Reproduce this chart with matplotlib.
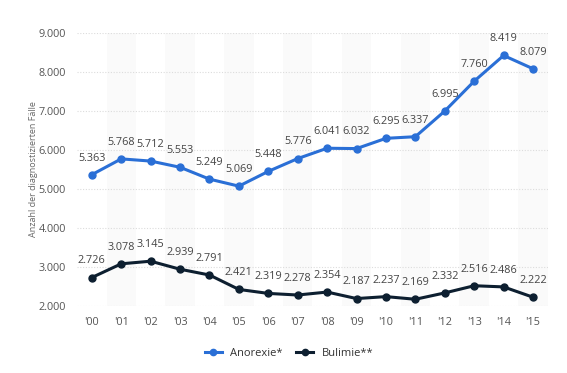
import matplotlib.pyplot as plt

plt.rcParams['font.family'] = ['Open Sans', 'DejaVu Sans']

years = ["'00", "'01", "'02", "'03", "'04", "'05", "'06", "'07",
         "'08", "'09", "'10", "'11", "'12", "'13", "'14", "'15"]
anorexie = [5363, 5768, 5712, 5553, 5249, 5069, 5448, 5776,
            6041, 6032, 6295, 6337, 6995, 7760, 8419, 8079]
bulimie = [2726, 3078, 3145, 2939, 2791, 2421, 2319, 2278,
           2354, 2187, 2237, 2169, 2332, 2516, 2486, 2222]
yticks = [2000, 3000, 4000, 5000, 6000, 7000, 8000, 9000]

blue = '#2a6fd6'
navy = '#0d1f30'

def fmt(v):
    return f"{v:,}".replace(",", ".")

fig = plt.figure(figsize=(5.67, 3.73), dpi=100)
ax = fig.add_axes([0.136, 0.18, 0.83, 0.732])

x = list(range(len(years)))

# alternating background bands
for i in x:
    if i % 2 == 1:
        ax.axvspan(i - 0.5, i + 0.5, color='#fafafa', zorder=0, lw=0)

for yv in yticks:
    ax.axhline(yv, color='#dcdcdc', lw=0.8, ls=(0, (1, 1.5)), zorder=1)

ax.plot(x, anorexie, color=blue, lw=2.2, marker='o', ms=5,
        label='Anorexie*', zorder=3, clip_on=False)
ax.plot(x, bulimie, color=navy, lw=2.2, marker='o', ms=5,
        label='Bulimie**', zorder=3, clip_on=False)

for xi, v in zip(x, anorexie):
    ax.annotate(fmt(v), (xi, v), xytext=(0, 8), textcoords='offset points',
                ha='center', va='bottom', fontsize=7.8, color='#444444', zorder=4)
for xi, v in zip(x, bulimie):
    ax.annotate(fmt(v), (xi, v), xytext=(0, 8), textcoords='offset points',
                ha='center', va='bottom', fontsize=7.8, color='#444444', zorder=4)

ax.set_xlim(-0.5, 15.5)
ax.set_ylim(2000, 9000)
ax.set_xticks(x)
ax.set_xticklabels(years)
ax.set_yticks(yticks)
ax.set_yticklabels([fmt(v) for v in yticks])
ax.tick_params(length=0, labelsize=7.8, colors='#555555', pad=8)
for s in ax.spines.values():
    s.set_visible(False)

ax.set_ylabel('Anzahl der diagnostizierten Fälle', fontsize=6.5, color='#666666')
ax.yaxis.set_label_coords(-0.083, 0.5)

fig.legend(loc='lower center', bbox_to_anchor=(0.51, 0.01), ncol=2, frameon=False,
           fontsize=8, handlelength=1.5, markerscale=0.9, columnspacing=1.2,
           labelcolor='#333333')

fig.savefig('out.png', dpi=100, facecolor='white')
